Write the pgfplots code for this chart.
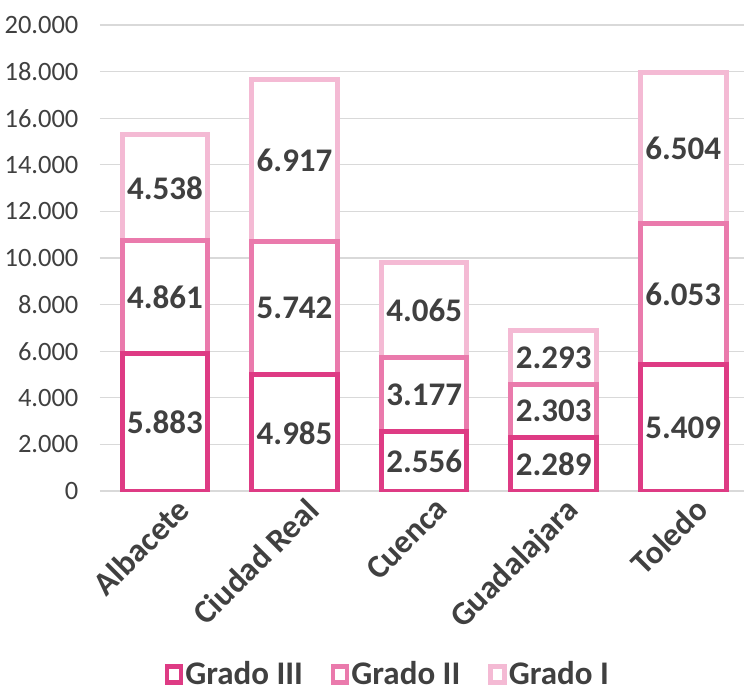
\documentclass[border=0pt]{standalone}
\usepackage{pgfplots}
\usepackage{pgfplotstable}
\pgfplotsset{compat=1.18}
\usepackage{fontspec}
\setmainfont{Carlito}

\definecolor{gIII}{HTML}{DE3B84}
\definecolor{gII}{HTML}{EA7AAC}
\definecolor{gI}{HTML}{F4BAD4}
\definecolor{txt}{HTML}{404040}
\definecolor{grid}{HTML}{D9D9D9}

% provincia, grado III, grado II, grado I
\pgfplotstableread{
x g3 g2 g1
0 5883 4861 4538
1 4985 5742 6917
2 2556 3177 4065
3 2289 2303 2293
4 5409 6053 6504
}\datos

\begin{document}
\begin{tikzpicture}
\begin{axis}[
    at={(0,0)}, anchor=origin,
    scale only axis, width=644pt, height=466pt,
    ybar stacked, bar width=0.66,
    xmin=-0.502, xmax=4.468, ymin=0, ymax=20000,
    xtick=data,
    xticklabels={Albacete,Ciudad Real,Cuenca,Guadalajara,Toledo},
    ytick={0,2000,...,20000},
    scaled y ticks=false,
    /pgf/number format/.cd, 1000 sep={.}, assume math mode=true, /pgfplots/.cd,
    axis line style={draw=none},
    major tick length=0pt,
    ymajorgrids, grid style={draw=grid, line width=1.3pt},
    yticklabel style={font=\fontsize{26.5}{30}\selectfont, text=txt, xshift=-18pt},
    xticklabel style={font=\bfseries\fontsize{33}{38}\selectfont, text=txt,
        rotate=45, anchor=north east, xshift=7pt, yshift=-7pt},
    nodes near coords,
    every node near coord/.append style={anchor=center,
        font=\bfseries\fontsize{33}{38}\selectfont, text=txt},
    legend columns=-1,
    legend style={at={(0.447,-0.392)}, anchor=center, draw=none,
        font=\bfseries\fontsize{33}{38}\selectfont, text=txt,
        /tikz/every even column/.append style={column sep=26pt}},
]
\addplot[draw=gIII, fill=white, line width=5pt,
    legend image code/.code={\draw[draw=gIII, fill=white, line width=4.5pt] (0pt,-9pt) rectangle (14pt,7pt);}]
    table[x=x, y=g3] {\datos};
\addplot[draw=gII, fill=white, line width=5pt,
    legend image code/.code={\draw[draw=gII, fill=white, line width=4.5pt] (0pt,-9pt) rectangle (14pt,7pt);}]
    table[x=x, y=g2] {\datos};
\addplot[draw=gI, fill=white, line width=5pt,
    legend image code/.code={\draw[draw=gI, fill=white, line width=4.5pt] (0pt,-9pt) rectangle (14pt,7pt);}]
    table[x=x, y=g1] {\datos};
\legend{Grado III, Grado II, Grado I}
\end{axis}
\pgfresetboundingbox
\path (-165pt,-199pt) rectangle (579pt,491pt);
\end{tikzpicture}
\end{document}
